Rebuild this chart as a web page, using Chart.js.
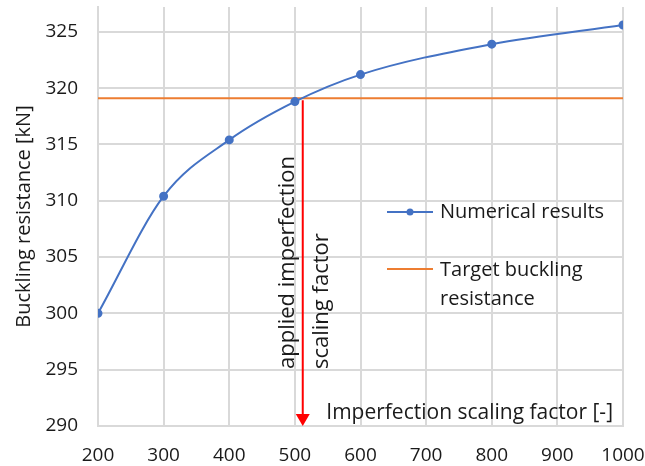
<!DOCTYPE html>
<html>
<head>
<meta charset="utf-8">
<script src="https://cdn.jsdelivr.net/npm/chart.js@4.4.1/dist/chart.umd.min.js"></script>
<style>
  html, body { margin: 0; padding: 0; background: #fff; }
  #wrap { width: 645px; height: 466px; position: relative; }
</style>
</head>
<body>
<div id="wrap"><canvas id="chart"></canvas></div>
<script>
const scalingFactors = [200, 300, 400, 500, 600, 800, 1000];
const resistanceValues = [300.0, 310.4, 315.4, 318.8, 321.2, 323.9, 325.6];
const targetResistance = 319.1;
const appliedFactor = 512;
const xTicks = [200, 300, 400, 500, 600, 700, 800, 900, 1000];
const yTicks = [290, 295, 300, 305, 310, 315, 320, 325];

const FONT = '"Open Sans", Lato, sans-serif';
const BLUE = '#4472c4';
const ORANGE = '#ed7d31';
const RED = '#ff0000';
const GRID = '#d9d9d9';
const TEXT = '#1a1a1a';

const numericalPoints = scalingFactors.map((x, i) => ({ x, y: resistanceValues[i] }));
const targetPoints = [
  { x: xTicks[0], y: targetResistance },
  { x: xTicks[xTicks.length - 1], y: targetResistance },
];

// keep the plot box fixed: no extra room for overhanging tick labels
function fixPadding(axis) {
  axis.paddingTop = 0;
  axis.paddingBottom = 0;
  axis.paddingLeft = 0;
  axis.paddingRight = 0;
}

// arrow, rotated note, inner axis caption and the legend box
const overlayPlugin = {
  id: 'overlay',
  afterDatasetsDraw(chart) {
    const { ctx, chartArea, scales } = chart;
    const xs = scales.x;
    const ys = scales.y;

    const ax = xs.getPixelForValue(appliedFactor);
    const top = ys.getPixelForValue(targetResistance) + 2;
    const tip = ys.getPixelForValue(yTicks[0]);
    const head = 12;
    ctx.save();
    ctx.strokeStyle = RED;
    ctx.fillStyle = RED;
    ctx.lineWidth = 2;
    ctx.beginPath();
    ctx.moveTo(ax, top);
    ctx.lineTo(ax, tip - head);
    ctx.stroke();
    ctx.beginPath();
    ctx.moveTo(ax - 7, tip - head);
    ctx.lineTo(ax + 7, tip - head);
    ctx.lineTo(ax, tip);
    ctx.closePath();
    ctx.fill();

    // note along the arrow, read bottom to top
    ctx.fillStyle = TEXT;
    ctx.font = '22px ' + FONT;
    ctx.textAlign = 'left';
    ctx.textBaseline = 'middle';
    ctx.translate(ax, 369);
    ctx.rotate(-Math.PI / 2);
    ctx.fillText('applied imperfection', 0, -15);
    ctx.fillText('scaling factor', 0, 19);
    ctx.restore();

    // x axis caption sits inside the plot
    ctx.save();
    ctx.fillStyle = TEXT;
    ctx.font = '21px ' + FONT;
    ctx.textAlign = 'right';
    ctx.textBaseline = 'middle';
    ctx.fillText('Imperfection scaling factor [-]', chartArea.right - 10, chartArea.bottom - 13);
    ctx.restore();

    // legend
    ctx.save();
    const lx0 = 387;
    const lx1 = 433;
    ctx.lineWidth = 2;
    ctx.strokeStyle = BLUE;
    ctx.beginPath();
    ctx.moveTo(lx0, 212);
    ctx.lineTo(lx1, 212);
    ctx.stroke();
    ctx.fillStyle = BLUE;
    ctx.beginPath();
    ctx.arc((lx0 + lx1) / 2, 212, 3.5, 0, Math.PI * 2);
    ctx.fill();
    ctx.strokeStyle = ORANGE;
    ctx.beginPath();
    ctx.moveTo(lx0, 269);
    ctx.lineTo(lx1, 269);
    ctx.stroke();
    ctx.fillStyle = TEXT;
    ctx.font = '20px ' + FONT;
    ctx.textAlign = 'left';
    ctx.textBaseline = 'middle';
    ctx.fillText('Numerical results', 440, 212);
    ctx.fillText('Target buckling', 440, 270);
    ctx.fillText('resistance', 440, 299);
    ctx.restore();
  },
};

const chart = new Chart(document.getElementById('chart'), {
  type: 'line',
  data: {
    datasets: [
      {
        label: 'Numerical results',
        data: numericalPoints,
        borderColor: BLUE,
        backgroundColor: BLUE,
        borderWidth: 2,
        pointRadius: 3.5,
        pointHoverRadius: 3.5,
        cubicInterpolationMode: 'monotone',
      },
      {
        label: 'Target buckling resistance',
        data: targetPoints,
        borderColor: ORANGE,
        borderWidth: 2,
        pointRadius: 0,
        tension: 0,
      },
    ],
  },
  options: {
    responsive: true,
    maintainAspectRatio: false,
    animation: false,
    layout: { padding: { top: 7, right: 22, left: 0, bottom: 0 } },
    plugins: {
      legend: { display: false },
      tooltip: { enabled: false },
    },
    scales: {
      x: {
        type: 'linear',
        min: xTicks[0],
        max: xTicks[xTicks.length - 1],
        afterBuildTicks: (axis) => { axis.ticks = xTicks.map((value) => ({ value })); },
        afterFit: (axis) => { axis.height = 40; fixPadding(axis); },
        ticks: {
          color: TEXT,
          font: { family: FONT, size: 19 },
          padding: 18,
          maxRotation: 0,
          callback: (value) => String(value),
        },
        grid: { color: GRID, lineWidth: 2, drawTicks: false },
        border: { color: GRID, width: 2 },
      },
      y: {
        type: 'linear',
        min: yTicks[0],
        max: 327.2,
        afterBuildTicks: (axis) => { axis.ticks = yTicks.map((value) => ({ value })); },
        afterFit: (axis) => { axis.width = 98; fixPadding(axis); },
        ticks: {
          color: TEXT,
          font: { family: FONT, size: 19 },
          padding: 20,
          callback: (value) => String(value),
        },
        grid: { color: GRID, lineWidth: 2, drawTicks: false },
        border: { color: GRID, width: 2 },
        title: {
          display: true,
          text: 'Buckling resistance [kN]',
          color: TEXT,
          font: { family: FONT, size: 20 },
          padding: { top: 12, bottom: 0 },
        },
      },
    },
  },
  plugins: [overlayPlugin],
});
</script>
</body>
</html>
